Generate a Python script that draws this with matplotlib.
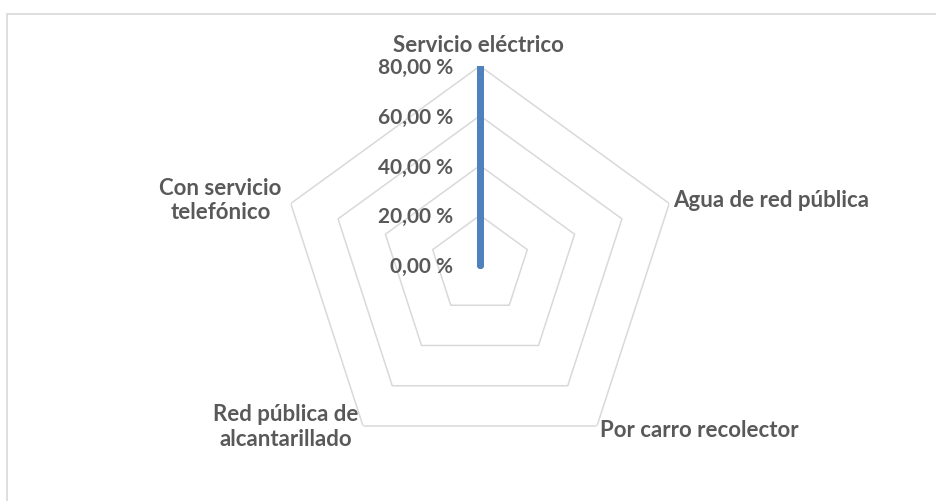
import numpy as np
import matplotlib
matplotlib.use('Agg')
import matplotlib.pyplot as plt
from matplotlib.patches import Rectangle

plt.rcParams['font.family'] = ['Lato', 'DejaVu Sans']
plt.rcParams['font.weight'] = 'bold'

categorias = ['Servicio eléctrico', 'Agua de red pública', 'Por carro recolector',
              'Red pública de\nalcantarillado', 'Con servicio\ntelefónico']
valores = [80.0, 0.0, 0.0, 0.0, 0.0]
anillos = [20, 40, 60, 80]
etiquetas_r = ['0,00 %', '20,00 %', '40,00 %', '60,00 %', '80,00 %']
niveles_r = [0, 20, 40, 60, 80]

GRIS = '#595959'
W, H, DPI = 936, 502, 100
PX = 72 / DPI  # pixeles -> puntos
fig = plt.figure(figsize=(W / DPI, H / DPI), dpi=DPI)

# marco del grafico (solo borde izquierdo y superior visibles)
fig.patches.append(Rectangle((7.5 / W, -0.1), 1.2, 1 - 14.5 / H + 0.1,
                             transform=fig.transFigure, fill=False,
                             ec='#D9D9D9', lw=1.2, zorder=0))

cx, cy, R = 480, 266, 199
ax = fig.add_axes([(cx - R) / W, (H - cy - R) / H, 2 * R / W, 2 * R / H], projection='polar')
ax.set_theta_offset(np.pi / 2)
ax.set_theta_direction(-1)
ax.set_ylim(0, 80)
ax.grid(False)
ax.spines['polar'].set_visible(False)
ax.set_xticks([])
ax.set_yticks([])
ax.patch.set_alpha(0)

n = len(categorias)
th = np.linspace(0, 2 * np.pi, n, endpoint=False)
thc = np.append(th, th[0])

for r in anillos:
    ax.plot(thc, [r] * (n + 1), color='#D9D9D9', lw=1.1, zorder=1)

vc = valores + valores[:1]
ax.plot(thc, vc, color='#4F81BD', lw=5, solid_capstyle='round',
        solid_joinstyle='round', zorder=3)

for r, t in zip(niveles_r, etiquetas_r):
    ax.annotate(t, xy=(0, r), xytext=(-27 * PX, -1 * PX), textcoords='offset points',
                ha='right', va='center', fontsize=15, color=GRIS)

# desplazamientos en pixeles y alineacion de cada rotulo de categoria
offs = [((-2, 15), 'center', 'baseline'),
        ((4, -2), 'left', 'baseline'),
        ((3, -10), 'left', 'baseline'),
        ((-5, 0), 'right', 'center'),
        ((-9, 4), 'right', 'center')]
for t, lab, ((dx, dy), ha, va) in zip(th, categorias, offs):
    ax.annotate(lab, xy=(t, 80), xytext=(dx * PX, dy * PX), textcoords='offset points',
                ha=ha, va=va, fontsize=16, color=GRIS,
                multialignment='center', linespacing=1.2,
                annotation_clip=False)

fig.savefig('out.png', dpi=DPI)
